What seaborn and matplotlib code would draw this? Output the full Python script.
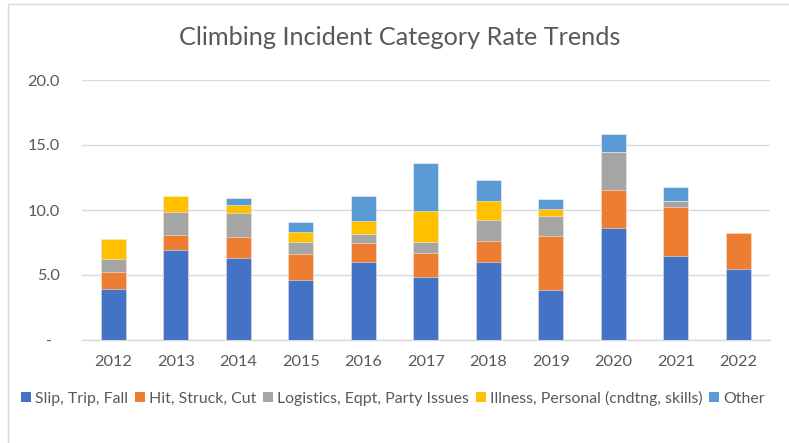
import matplotlib
matplotlib.use("Agg")
import matplotlib.pyplot as plt
from matplotlib.patches import Patch, Rectangle
from matplotlib.transforms import ScaledTranslation
import numpy as np
import pandas as pd
import seaborn as sns

years = ["2012", "2013", "2014", "2015", "2016", "2017", "2018", "2019", "2020", "2021", "2022"]
slip_trip_fall = [3.95, 6.90, 6.33, 4.64, 6.00, 4.82, 6.03, 3.87, 8.64, 6.46, 5.46]
hit_struck_cut = [1.25, 1.15, 1.62, 1.98, 1.44, 1.85, 1.61, 4.10, 2.90, 3.80, 2.77]
logistics = [1.00, 1.82, 1.84, 0.94, 0.74, 0.89, 1.62, 1.59, 2.90, 0.41, 0.00]
illness = [1.55, 1.21, 0.57, 0.77, 0.97, 2.36, 1.43, 0.52, 0.00, 0.00, 0.00]
other = [0.00, 0.00, 0.56, 0.75, 1.90, 3.67, 1.62, 0.74, 1.43, 1.10, 0.00]

series_names = ["Slip, Trip, Fall", "Hit, Struck, Cut", "Logistics, Eqpt, Party Issues",
                "Illness, Personal (cndtng, skills)", "Other"]
series_values = [slip_trip_fall, hit_struck_cut, logistics, illness, other]
colors = ["#4472C4", "#ED7D31", "#A5A5A5", "#FFC000", "#5B9BD5"]

ytick_values = [0, 5, 10, 15, 20]
ytick_labels = ["-", "5.0", "10.0", "15.0", "20.0"]

title = "Climbing Incident Category Rate Trends"
text_color = "#595959"
grid_color = "#D9D9D9"

sns.set_theme(style="white")
plt.rcParams["font.family"] = ["Lato", "DejaVu Sans"]

W, H = 789, 443
fig = plt.figure(figsize=(W / 100, H / 100), dpi=100)
ax = fig.add_axes([82 / W, 1 - 340 / H, 687.5 / W, 260 / H])

cum = np.cumsum(np.array(series_values, dtype=float), axis=0)
df = pd.DataFrame({"year": years})
for i in range(len(series_names) - 1, -1, -1):
    df["cum"] = cum[i]
    sns.barplot(data=df, x="year", y="cum", color=colors[i], width=0.4,
                saturation=1, errorbar=None, ax=ax,
                edgecolor=(1, 1, 1, 0.55), linewidth=0.6, zorder=3)

ax.set_xlim(-0.5, len(years) - 0.5)
ax.set_ylim(0, 20)
ax.set_yticks(ytick_values)
ax.set_yticklabels(ytick_labels)
ax.set_xlabel("")
ax.set_ylabel("")
for s in ["top", "right", "left"]:
    ax.spines[s].set_visible(False)
ax.spines["bottom"].set_color(grid_color)
ax.spines["bottom"].set_linewidth(1.0)
ax.spines["bottom"].set_zorder(2)
ax.yaxis.grid(True, color=grid_color, linewidth=1.0, zorder=0)
ax.set_axisbelow(True)
ax.tick_params(axis="y", length=0, pad=15.8, labelsize=11.8, labelcolor=text_color)
ax.tick_params(axis="x", length=0, pad=10.5, labelsize=11.8, labelcolor=text_color)
lab0 = ax.get_yticklabels()[0]
lab0.set_transform(lab0.get_transform() + ScaledTranslation(-8 / 100, 0, fig.dpi_scale_trans))

fig.text(399.5 / W, 1 - 45 / H, title, ha="center", va="baseline",
         fontsize=18.2, color=text_color)

handles = [Patch(facecolor=c, edgecolor="none") for c in colors]
leg = fig.legend(handles, series_names, loc="center left",
                 bbox_to_anchor=(21 / W, 1 - 398 / H), ncol=5, frameon=False,
                 fontsize=11.4, labelcolor=text_color, handlelength=0.62,
                 handleheight=0.62, handletextpad=0.25, columnspacing=0.45,
                 borderaxespad=0, borderpad=0)

fig.patches.append(Rectangle((8 / W, -0.1), 1.2, (1 - 4 / H) + 0.1,
                             transform=fig.transFigure, fill=False,
                             edgecolor=grid_color, linewidth=1.0))

fig.savefig("out.png", dpi=100)
